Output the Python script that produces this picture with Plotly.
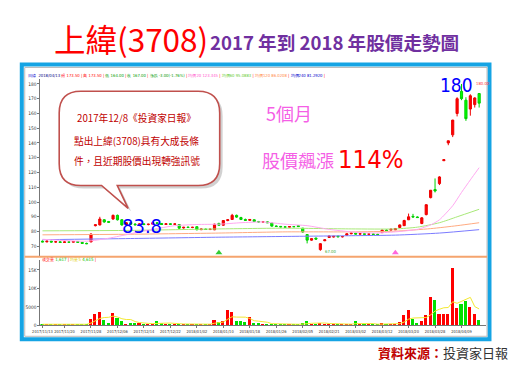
import plotly.graph_objects as go
import pandas as pd

W, H = 521, 376

# ---------------- data ----------------
dates = [
    "2017/11/13", "2017/11/14", "2017/11/15", "2017/11/16", "2017/11/17", "2017/11/20", "2017/11/21",
    "2017/11/22", "2017/11/23", "2017/11/24", "2017/11/27", "2017/11/28", "2017/11/29", "2017/11/30",
    "2017/12/01", "2017/12/04", "2017/12/05", "2017/12/06", "2017/12/07", "2017/12/08", "2017/12/11",
    "2017/12/12", "2017/12/13", "2017/12/14", "2017/12/15", "2017/12/18", "2017/12/19", "2017/12/20",
    "2017/12/21", "2017/12/22", "2017/12/25", "2017/12/26", "2017/12/27", "2017/12/28", "2017/12/29",
    "2018/01/02", "2018/01/03", "2018/01/04", "2018/01/05", "2018/01/08", "2018/01/09", "2018/01/10",
    "2018/01/11", "2018/01/12", "2018/01/15", "2018/01/16", "2018/01/17", "2018/01/18", "2018/01/19",
    "2018/01/22", "2018/01/23", "2018/01/24", "2018/01/25", "2018/01/26", "2018/01/29", "2018/01/30",
    "2018/01/31", "2018/02/01", "2018/02/02", "2018/02/05", "2018/02/06", "2018/02/07", "2018/02/08",
    "2018/02/09", "2018/02/12", "2018/02/21", "2018/02/22", "2018/02/23", "2018/02/26", "2018/02/27",
    "2018/03/01", "2018/03/02", "2018/03/05", "2018/03/06", "2018/03/07", "2018/03/08", "2018/03/09",
    "2018/03/12", "2018/03/13", "2018/03/14", "2018/03/15", "2018/03/16", "2018/03/19", "2018/03/20",
    "2018/03/21", "2018/03/22", "2018/03/23", "2018/03/26", "2018/03/27", "2018/03/28", "2018/03/29",
    "2018/03/30", "2018/03/31", "2018/04/02", "2018/04/03", "2018/04/09", "2018/04/10", "2018/04/11",
    "2018/04/12", "2018/04/13",
]

opens = [73.5, 73.0, 73.5, 72.9, 73.1, 72.6, 73.0, 72.8, 73.3, 72.7, 72.0, 73.0, 84.0, 84.5, 88.0,
         86.8, 88.5, 91.0, 88.0, 84.5, 86.0, 85.0, 84.6, 85.2, 84.8, 85.0, 86.0, 85.5, 84.8, 85.3,
         84.9, 84.8, 82.5, 83.0, 82.8, 83.3, 81.3, 81.7, 81.4, 81.2, 85.5, 84.3, 87.5, 88.2, 91.0,
         89.5, 88.2, 87.6, 88.0, 86.8, 86.5, 86.6, 85.8, 83.7, 83.5, 83.2, 83.0, 83.4, 84.0, 82.3,
         78.0, 74.2, 75.6, 67.8, 73.8, 76.0, 76.3, 76.9, 76.5, 77.5, 78.5, 78.9, 78.3, 78.5, 78.2,
         78.4, 78.1, 79.3, 81.0, 81.0, 81.2, 82.8, 84.0, 88.0, 90.3, 89.9, 85.5, 91.5, 103.0, 108.5,
         112.5, 128.0, 140.0, 145.5, 160.0, 175.0, 169.0, 163.0, 166.0, 173.5]
highs = [74.0, 73.8, 73.7, 73.3, 73.5, 73.2, 73.4, 73.5, 73.5, 72.9, 72.5, 78.8, 84.8, 90.0, 88.5,
         87.2, 91.5, 91.5, 88.5, 86.5, 86.5, 85.8, 85.5, 85.6, 85.3, 86.2, 86.4, 85.8, 85.6, 85.6,
         85.5, 85.0, 83.2, 83.4, 83.2, 83.6, 82.0, 82.0, 81.9, 85.3, 86.0, 87.8, 88.5, 92.0, 91.5,
         90.0, 88.8, 88.5, 88.3, 87.2, 87.0, 86.9, 86.0, 84.2, 83.8, 83.6, 83.7, 83.8, 84.3, 82.5,
         78.3, 75.5, 75.9, 72.2, 74.6, 77.2, 77.0, 77.2, 76.9, 78.8, 79.2, 79.2, 78.8, 78.9, 78.6,
         78.7, 78.5, 81.3, 81.4, 81.9, 82.4, 84.8, 88.0, 92.2, 92.0, 90.3, 89.8, 98.5, 108.0, 116.0,
         117.5, 128.7, 141.6, 155.7, 171.0, 180.0, 171.0, 173.0, 171.0, 173.5]
lows = [72.8, 72.8, 72.6, 72.5, 72.3, 72.4, 72.6, 72.7, 72.4, 71.8, 71.5, 72.8, 83.5, 84.2, 86.0,
        86.0, 88.0, 87.5, 84.0, 83.8, 84.5, 84.2, 84.0, 84.3, 84.2, 84.8, 85.2, 84.5, 84.6, 84.6,
        84.5, 81.8, 82.0, 82.5, 82.3, 80.8, 81.0, 81.2, 81.0, 81.0, 84.0, 84.0, 87.0, 88.0, 89.3,
        87.8, 87.2, 87.4, 86.5, 86.2, 86.0, 85.8, 83.3, 83.2, 82.8, 82.7, 82.8, 83.0, 83.2, 79.2,
        72.0, 73.8, 74.6, 67.0, 73.5, 75.8, 76.0, 76.2, 76.0, 77.3, 78.2, 78.0, 77.8, 78.0, 77.8,
        77.9, 77.7, 79.0, 80.4, 80.8, 81.0, 82.5, 83.8, 87.8, 89.5, 89.2, 85.0, 91.0, 102.5, 106.5,
        111.5, 128.0, 138.5, 144.0, 158.0, 169.0, 155.0, 158.5, 164.0, 164.0]
closes = [73.0, 73.5, 72.9, 73.1, 72.6, 73.0, 72.8, 73.3, 72.7, 72.0, 71.8, 78.3, 84.6, 88.5, 86.5,
          86.3, 91.0, 88.0, 84.5, 86.0, 85.0, 84.6, 85.2, 84.8, 85.0, 86.0, 85.5, 84.8, 85.3, 84.9,
          85.2, 82.3, 82.9, 82.8, 82.9, 81.3, 81.7, 81.4, 81.6, 85.0, 84.3, 87.5, 88.0, 91.0, 89.8,
          88.2, 87.6, 88.2, 86.8, 86.5, 86.6, 86.0, 83.7, 83.5, 83.2, 83.0, 83.4, 83.3, 83.4, 79.7,
          74.2, 75.2, 74.9, 71.8, 74.4, 77.0, 76.8, 76.5, 76.6, 78.5, 78.9, 78.3, 78.5, 78.2, 78.4,
          78.1, 78.0, 81.0, 80.7, 81.6, 82.1, 84.5, 87.5, 90.0, 89.9, 89.5, 89.3, 98.2, 108.0, 107.5,
          117.0, 128.7, 141.5, 155.5, 170.0, 170.0, 156.5, 172.0, 170.5, 167.0]

# volume in thousand shares
volume_k = [0.3, 0.3, 0.2, 0.3, 0.5, 0.3, 0.2, 0.3, 0.3, 0.3, 0.4, 1.8, 3.2, 3.6, 1.6,
            0.7, 3.4, 2.1, 1.2, 0.5, 0.7, 0.7, 0.7, 0.3, 0.3, 0.4, 1.2, 0.7, 0.4, 0.4,
            0.4, 0.4, 0.3, 0.3, 0.3, 0.4, 0.3, 0.3, 0.3, 1.6, 1.0, 1.3, 4.1, 3.6, 1.2,
            1.2, 1.0, 2.3, 0.6, 0.6, 0.4, 0.3, 0.4, 0.3, 0.3, 0.3, 0.3, 0.3, 0.3, 0.6,
            1.1, 0.5, 0.5, 0.7, 0.4, 0.4, 0.3, 0.3, 0.3, 0.4, 0.3, 1.1, 0.4, 0.3, 0.3,
            0.3, 0.3, 0.6, 0.3, 0.3, 0.3, 0.9, 2.7, 4.2, 1.8, 0.7, 1.2, 2.7, 7.8, 6.9,
            3.2, 3.2, 3.0, 15.6, 4.8, 5.7, 6.6, 5.1, 3.2, 1.6]

# moving averages (index into dates, value)
ma20_idx = [0, 10, 15, 20, 25, 30, 35, 40, 45, 50, 55, 60, 65, 70, 75, 80, 85, 88, 90, 93, 95, 97, 99]
ma20_val = [74.8, 73.5, 75.5, 78.5, 81.5, 84.0, 84.8, 85.0, 86.0, 86.5, 85.0, 84.0, 81.5, 79.8, 79.0,
            79.8, 81.5, 84.5, 88.0, 97.5, 106.5, 115.0, 123.3]
ma60_idx = [0, 20, 40, 55, 70, 80, 85, 90, 94, 99]
ma60_val = [80.5, 80.8, 81.8, 82.3, 81.8, 81.8, 83.0, 86.0, 90.0, 95.1]
ma120_idx = [0, 20, 40, 55, 70, 80, 88, 94, 99]
ma120_val = [77.8, 78.2, 79.0, 79.8, 79.8, 80.3, 82.0, 84.0, 86.0]
ma240_idx = [0, 20, 40, 55, 70, 80, 90, 99]
ma240_val = [74.5, 75.3, 76.2, 76.7, 77.2, 77.6, 79.0, 81.3]

signal_idx = [40, 80]
signal_price = [65.6, 65.6]
signal_color = ["#33CC33", "#FF66DD"]

tick_dates = ["2017/11/13", "2017/11/20", "2017/11/28", "2017/12/06", "2017/12/14", "2017/12/22",
              "2018/01/02", "2018/01/10", "2018/01/18", "2018/01/26", "2018/02/05", "2018/02/21",
              "2018/03/02", "2018/03/12", "2018/03/20", "2018/03/28", "2018/04/09"]
price_ticks = [70, 80, 90, 100, 110, 120, 130, 140, 150, 160, 170, 180]
vol_ticks = [0, 5, 10, 15]
vol_tick_text = ["0", "5000", "10K", "15K"]

# ---------------- helpers ----------------
def fx(px):
    return px / W


def fy(py):
    return 1 - py / H


NARROW = "Liberation Sans Narrow, DejaVu Sans Condensed, Liberation Sans, sans-serif"
CJK = "Noto Sans CJK TC, Noto Sans CJK SC, sans-serif"

RED = "#FF0000"
GREEN = "#00E000"

vol_colors = [RED if c >= o else GREEN for o, c in zip(opens, closes)]
vol_ma5 = pd.Series(volume_k).rolling(5, min_periods=1).mean()

fig = go.Figure()

fig.add_trace(go.Candlestick(
    x=dates, open=opens, high=highs, low=lows, close=closes,
    increasing=dict(line=dict(color="#EE0000", width=1), fillcolor=RED),
    decreasing=dict(line=dict(color="#00D000", width=1), fillcolor="#00FF00"),
    whiskerwidth=0, xaxis="x", yaxis="y", showlegend=False,
))

for idx, val, col in [(ma240_idx, ma240_val, "#7B7BFF"), (ma120_idx, ma120_val, "#FFAA80"),
                      (ma60_idx, ma60_val, "#A8E878"), (ma20_idx, ma20_val, "#FFA8F0")]:
    fig.add_trace(go.Scatter(x=[dates[i] for i in idx], y=val, mode="lines",
                             line=dict(color=col, width=1, shape="spline", smoothing=0.6),
                             xaxis="x", yaxis="y", showlegend=False, hoverinfo="skip"))

fig.add_trace(go.Scatter(x=[dates[i] for i in signal_idx], y=signal_price, mode="markers",
                         marker=dict(symbol="triangle-up", size=6, color=signal_color),
                         xaxis="x", yaxis="y", showlegend=False))

fig.add_trace(go.Bar(x=dates, y=volume_k, marker=dict(color=vol_colors, line=dict(width=0)),
                     width=0.7, xaxis="x2", yaxis="y2", showlegend=False))
fig.add_trace(go.Scatter(x=dates, y=vol_ma5, mode="lines", line=dict(color="#F2E830", width=1),
                         xaxis="x2", yaxis="y2", showlegend=False, hoverinfo="skip"))

xr = [-0.45, 100.45]
axis_common = dict(showgrid=False, zeroline=False, linecolor="#777777", linewidth=1,
                   tickcolor="#777777", ticklen=2, ticks="outside")
tfont = dict(family=NARROW, size=4.8, color="#333333")

fig.update_layout(
    width=W, height=H, autosize=False,
    margin=dict(l=0, r=0, t=0, b=0),
    paper_bgcolor="white", plot_bgcolor="white",
    showlegend=False, bargap=0,
    xaxis=dict(type="category", domain=[fx(33), fx(485)], range=xr, anchor="y",
               showticklabels=False, showline=False, ticks="", showgrid=False,
               rangeslider=dict(visible=False), categoryorder="array", categoryarray=dates),
    yaxis=dict(domain=[fy(258), fy(80)], range=[63.5, 183.1], anchor="x", showline=True,
               tickvals=price_ticks, tickfont=tfont, **axis_common),
    xaxis2=dict(type="category", domain=[fx(33), fx(485)], range=xr, anchor="y2",
                showline=True, tickvals=tick_dates, ticktext=tick_dates, tickangle=0,
                tickfont=dict(family=NARROW, size=4.0, color="#333333"),
                categoryorder="array", categoryarray=dates, **axis_common),
    yaxis2=dict(domain=[fy(328), fy(262)], range=[0, 17.68], anchor="x2", showline=True,
                tickvals=vol_ticks, ticktext=vol_tick_text, tickfont=tfont, **axis_common),
)

# ---------------- decorations ----------------
shapes = []
# outer blue frame and inner thin frame
shapes.append(dict(type="rect", xref="paper", yref="paper", x0=fx(14), x1=fx(489), y0=fy(342), y1=fy(65),
                   line=dict(color="#15A4E4", width=4), layer="below"))
shapes.append(dict(type="rect", xref="paper", yref="paper", x0=fx(17), x1=fx(486.5), y0=fy(339), y1=fy(68),
                   line=dict(color="#BBBBBB", width=1), layer="below"))
# orange separator between panels
shapes.append(dict(type="line", xref="paper", yref="paper", x0=fx(17), x1=fx(486.5), y0=fy(258.7), y1=fy(258.7),
                   line=dict(color="#F5A46E", width=2)))


def bubble(dx=0.0, dy=0.0):
    L, R, T, B, r = 52 + dx, 215 + dx, 92 + dy, 187 + dy, 22
    pts = [("M", L + r, T), ("L", R - r, T), ("Q", R, T, R, T + r), ("L", R, B - r),
           ("Q", R, B, R - r, B), ("L", 111 + dx, B), ("L", 122 + dx, 210 + dy), ("L", 95 + dx, B),
           ("L", L + r, B), ("Q", L, B, L, B - r), ("L", L, T + r), ("Q", L, T, L + r, T)]
    out = []
    for p in pts:
        cmd = p[0]
        coords = p[1:]
        s = []
        for k in range(0, len(coords), 2):
            s.append(f"{fx(coords[k]):.5f},{fy(coords[k + 1]):.5f}")
        out.append(cmd + " " + " ".join(s))
    return " ".join(out) + " Z"


shapes.append(dict(type="path", xref="paper", yref="paper", path=bubble(3, 3),
                   fillcolor="rgba(0,0,0,0.18)", line=dict(width=0)))
shapes.append(dict(type="path", xref="paper", yref="paper", path=bubble(),
                   fillcolor="white", line=dict(color="#C0504D", width=1.6)))
fig.update_layout(shapes=shapes)

ann = []


def txt(text, x, y, size, color="#000", family=CJK, xanchor="center", yanchor="middle", **kw):
    ann.append(dict(text=text, x=fx(x), y=fy(y), xref="paper", yref="paper", showarrow=False,
                    xanchor=xanchor, yanchor=yanchor,
                    font=dict(size=size, color=color, family=family), **kw))


# title (two parts)
txt("上緯(3708)", 45, 38, 31.5, color="#FF0000", xanchor="left")
txt("<b>2017 年到 2018 年股價走勢圖</b>", 203, 42, 18.6, color="#7030A0", xanchor="left")

# header info line
hdr = ('<span style="color:#0000CC">日線</span>  '
       '<span style="color:#000080">2018/04/13</span> '
       '<span style="color:#FF0000">開 173.50</span> | '
       '<span style="color:#FF0000">高 173.50</span> | '
       '<span style="color:#009900">低 164.00</span> | '
       '<span style="color:#009900">收 167.00</span> | '
       '<span style="color:#009900">漲跌 -3.00(-1.76%)</span> | '
       '<span style="color:#FF55CC">均價20 123.345</span> | '
       '<span style="color:#66CC33">均價60 95.0883</span> | '
       '<span style="color:#FF8844">均價120 86.0208</span> | '
       '<span style="color:#0000CC">均價240 81.2920</span> |')
txt(hdr, 18, 76, 4.2, color="#FF0000", family=NARROW, xanchor="left")

vhdr = ('<span style="color:#FF0000">成交量</span> <span style="color:#00BB00">1,617</span> | '
        '<span style="color:#DDCC00">均量5</span> <span style="color:#00BB00">4,615</span> |')
txt(vhdr, 33, 262.5, 4.4, color="#FF0000", family=NARROW, xanchor="left")

# callout text
for line, yy in [("2017年12/8《投資家日報》", 119), ("點出上緯(3708)具有大成長條", 142.5),
                 ("件，且近期股價出現轉強訊號", 162)]:
    txt(line, 131, yy, 9.7, color="#C00000")

txt("83.8", 136.5, 227.5, 20, color="#0000FF", family=NARROW)
txt("180", 456, 86, 19, color="#0000FF", family=NARROW)
txt("5個月", 285, 114, 18, color="#F55FE6")
txt("股價飆漲", 333, 161, 18, color="#F55FE6", xanchor="right")
txt("114%", 333, 160, 25.5, color="#FF0000", family=NARROW, xanchor="left")

# small price labels
ann.append(dict(text="67.00", x=dates[63], y=lows[63], xref="x", yref="y", showarrow=False,
                xanchor="left", yanchor="middle", xshift=3, yshift=-1,
                font=dict(size=4.2, color="#33AA33", family=NARROW)))
ann.append(dict(text="180.00", x=dates[95], y=highs[95], xref="x", yref="y", showarrow=False,
                xanchor="left", yanchor="middle", xshift=12, yshift=0,
                font=dict(size=4.2, color="#FF3333", family=NARROW)))

# source
txt('<b><span style="color:#C00000">資料來源：</span></b><span style="color:#333333">投資家日報</span>',
    510, 355, 13, xanchor="right")

fig.update_layout(annotations=ann)

fig.write_html("out.html", config={"displayModeBar": False},
               post_script="document.body.style.margin='0';")
